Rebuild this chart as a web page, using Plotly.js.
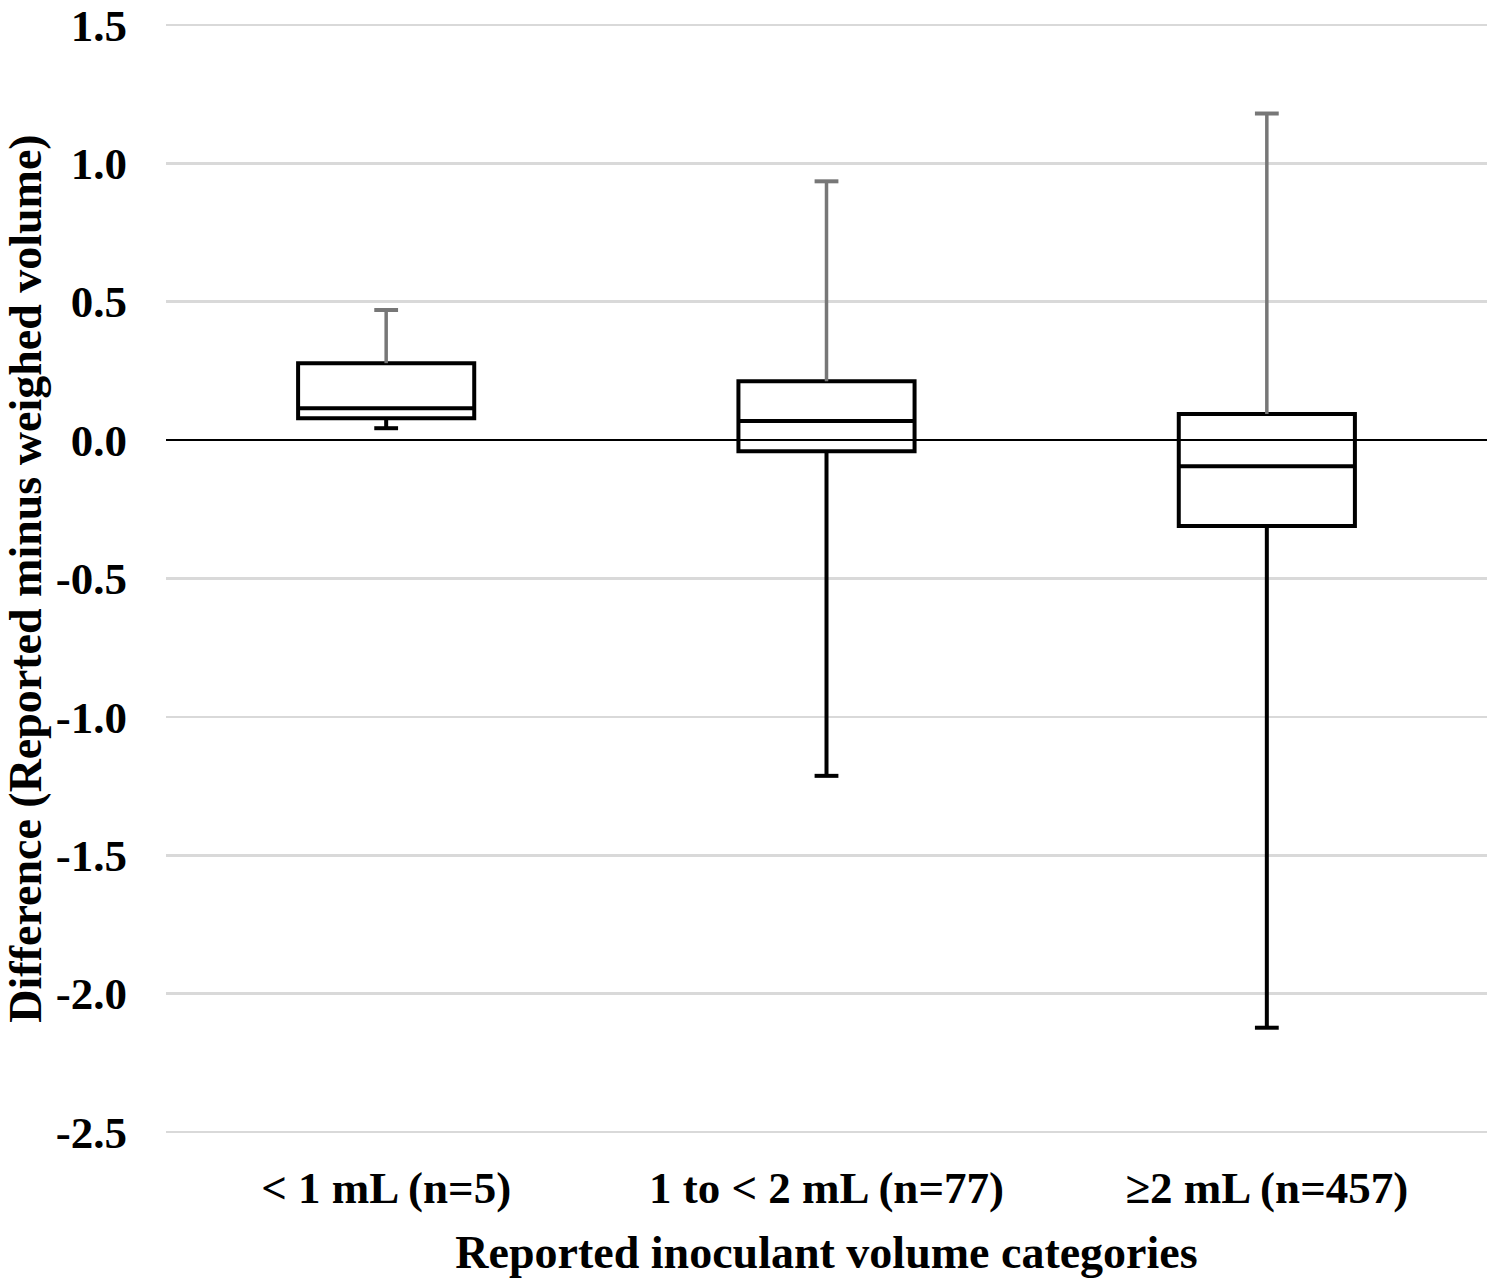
<!DOCTYPE html>
<html>
<head>
<meta charset="utf-8">
<script src="https://cdn.plot.ly/plotly-3.0.1.min.js"></script>
<style>
    html, body { margin: 0; padding: 0; background: #ffffff; }
    #chart { width: 1500px; height: 1280px; }
</style>
</head>
<body>
<div id="chart"></div>
<script>
// Data
const categories = ['< 1 mL (n=5)', '1 to < 2 mL (n=77)', '\u22652 mL (n=457)'];
const lowerWhisker = [0.043, -1.213, -2.123];
const q1 = [0.079, -0.040, -0.310];
const median = [0.115, 0.069, -0.094];
const q3 = [0.278, 0.213, 0.094];
const upperWhisker = [0.470, 0.935, 1.180];

const yTickValues = [-2.5, -2.0, -1.5, -1.0, -0.5, 0.0, 0.5, 1.0, 1.5];
const yTickLabels = ['-2.5', '-2.0', '-1.5', '-1.0', '-0.5', '0.0', '0.5', '1.0', '1.5'];

// Style
const FONT = 'Liberation Serif, Times New Roman, serif';
const BLACK = '#000000';
const GREY_WHISKER = '#777777';

// Build whisker segments (null breaks between categories)
function whiskerSegments(from, to) {
    const xs = [], ys = [];
    categories.forEach((c, i) => {
        xs.push(c, c, null);
        ys.push(from[i], to[i], null);
    });
    return { x: xs, y: ys };
}

const upperSeg = whiskerSegments(q3, upperWhisker);
const lowerSeg = whiskerSegments(q1, lowerWhisker);

const traces = [
    {
        type: 'box',
        x: categories,
        q1: q1,
        median: median,
        q3: q3,
        lowerfence: q1,
        upperfence: q3,
        width: 0.4,
        fillcolor: 'rgba(255,255,255,0)',
        line: { color: BLACK, width: 4 },
        boxpoints: false,
        hoverinfo: 'skip',
        showlegend: false
    },
    {
        type: 'scatter',
        mode: 'lines',
        x: lowerSeg.x,
        y: lowerSeg.y,
        line: { color: BLACK, width: 4 },
        hoverinfo: 'skip',
        showlegend: false
    },
    {
        type: 'scatter',
        mode: 'markers',
        x: categories,
        y: lowerWhisker,
        marker: { symbol: 'line-ew', size: 17, line: { color: BLACK, width: 4 } },
        hoverinfo: 'skip',
        showlegend: false
    },
    {
        type: 'scatter',
        mode: 'lines',
        x: upperSeg.x,
        y: upperSeg.y,
        line: { color: GREY_WHISKER, width: 3.5 },
        hoverinfo: 'skip',
        showlegend: false
    },
    {
        type: 'scatter',
        mode: 'markers',
        x: categories,
        y: upperWhisker,
        marker: { symbol: 'line-ew', size: 17, line: { color: GREY_WHISKER, width: 4 } },
        hoverinfo: 'skip',
        showlegend: false
    }
];

const layout = {
    width: 1500,
    height: 1280,
    margin: { l: 166, r: 13, t: 23, b: 146 },
    paper_bgcolor: '#ffffff',
    plot_bgcolor: '#ffffff',
    showlegend: false,
    font: { family: FONT, color: BLACK },
    xaxis: {
        type: 'category',
        categoryorder: 'array',
        categoryarray: categories,
        range: [-0.5, 2.5],
        showgrid: false,
        zeroline: false,
        showline: false,
        ticks: '',
        ticklabelstandoff: 23,
        tickfont: { family: FONT, size: 45, weight: 'bold', color: BLACK },
        title: {
            text: 'Reported inoculant volume categories',
            font: { family: FONT, size: 46, weight: 'bold', color: BLACK },
            standoff: 23
        }
    },
    yaxis: {
        range: [-2.507, 1.507],
        tickmode: 'array',
        tickvals: yTickValues,
        ticktext: yTickLabels,
        showgrid: true,
        gridcolor: '#d9d9d9',
        gridwidth: 2.5,
        zeroline: true,
        zerolinecolor: BLACK,
        zerolinewidth: 2.5,
        showline: false,
        ticks: '',
        ticklabelstandoff: 38,
        tickfont: { family: FONT, size: 45, weight: 'bold', color: BLACK },
        title: {
            text: 'Difference (Reported minus weighed volume)',
            font: { family: FONT, size: 46, weight: 'bold', color: BLACK },
            standoff: 22
        }
    }
};

Plotly.newPlot('chart', traces, layout, { staticPlot: true, displayModeBar: false });
</script>
</body>
</html>
